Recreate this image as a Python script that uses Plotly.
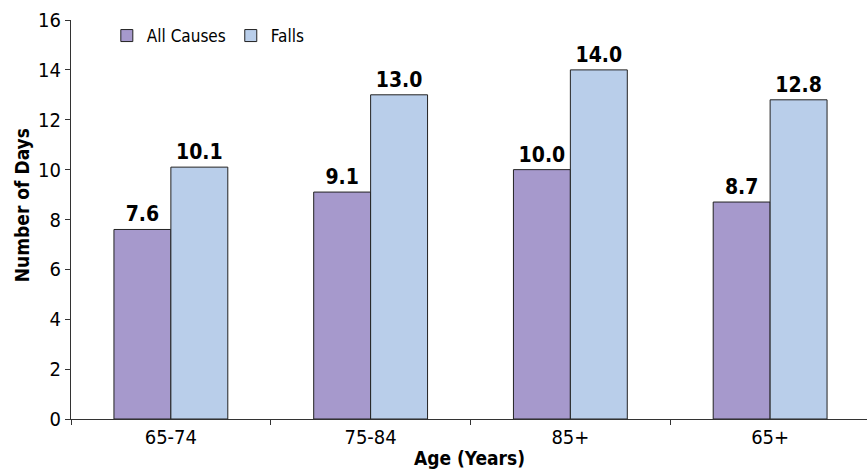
import plotly.graph_objects as go

categories = ["65-74", "75-84", "85+", "65+"]
all_causes = [7.6, 9.1, 10.0, 8.7]
falls = [10.1, 13.0, 14.0, 12.8]
series_names = ["All Causes", "Falls"]
y_ticks = [0, 2, 4, 6, 8, 10, 12, 14, 16]

FONT = "DejaVu Sans Condensed, Liberation Sans Narrow, Arial Narrow, sans-serif"
colors = ["#A699CC", "#B9CEEA"]

fig = go.Figure()
for name, vals, col in zip(series_names, [all_causes, falls], colors):
    fig.add_trace(go.Bar(
        name=name, x=categories, y=vals,
        marker=dict(color=col, line=dict(color="#222222", width=1)),
        texttemplate="%{y:.1f}", textposition="outside",
        textfont=dict(family=FONT, size=21, color="#000000", weight="bold"),
        cliponaxis=False,
    ))

fig.update_layout(
    width=867, height=470,
    margin=dict(l=71, r=0, t=20, b=51),
    paper_bgcolor="white", plot_bgcolor="white",
    barmode="group", bargap=0.43, bargroupgap=0,
    font=dict(family=FONT, size=19, color="#000000"),
    showlegend=True,
    legend=dict(orientation="h", x=0.045, y=1.005, xanchor="left", yanchor="top",
                font=dict(family=FONT, size=17), bgcolor="rgba(0,0,0,0)",
                itemwidth=30, tracegroupgap=0),
    xaxis=dict(range=[-0.5, 3.485], showline=True, linecolor="#333333", linewidth=1,
               ticks="outside", tickson="boundaries", ticklen=5, tickcolor="#333333",
               showgrid=False, zeroline=False, tickfont=dict(family=FONT, size=20)),
    yaxis=dict(range=[0, 16], tickvals=y_ticks, showline=True, linecolor="#333333", linewidth=1,
               ticks="outside", ticklen=5, tickcolor="#333333", showgrid=False, zeroline=False,
               tickfont=dict(family=FONT, size=20)),
    annotations=[
        dict(text="<b>Age (Years)</b>", xref="paper", yref="paper", x=0.5, y=-0.097,
             xanchor="center", yanchor="middle", showarrow=False,
             font=dict(family=FONT, size=19)),
        dict(text="<b>Number of Days</b>", xref="paper", yref="paper", x=-0.062, y=0.535,
             xanchor="center", yanchor="middle", showarrow=False, textangle=-90,
             font=dict(family=FONT, size=19)),
    ],
)

fig.write_html("out.html", config={"displayModeBar": False},
               post_script="document.body.style.margin='0px';")
